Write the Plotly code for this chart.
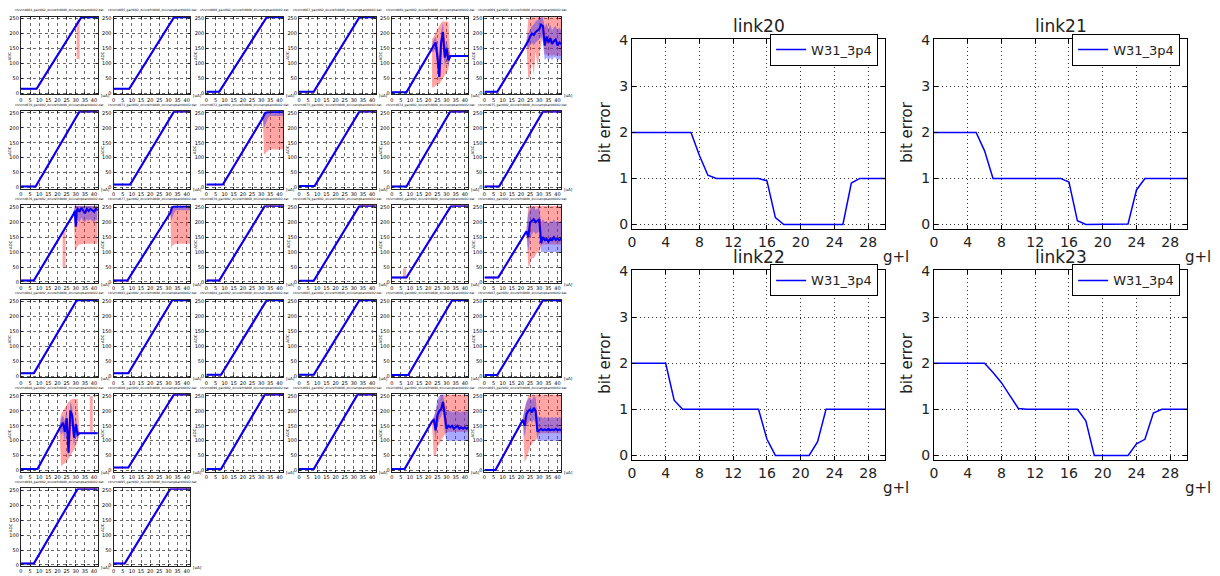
import plotly.graph_objects as go

W, H = 1220, 576

# ================= left: 32 DAC ramp panels (ADC vs uA) =================
panel_channel = [64, 65, 66, 67, 68, 69, 70, 71, 72, 73, 74, 75, 76, 77, 78, 79,
                 80, 81, 82, 83, 84, 85, 86, 87, 88, 89, 90, 91, 92, 93, 94, 95]
ramp_base = [15, 15, 5, 5, 3, 5,
             4, 10, 10, 5, 4, 4,
             5, 5, 5, 4, 15, 15,
             10, 10, 5, 5, 4, 4,
             5, 10, 5, 5, 5, 2,
             5, 5]
ramp_start = [8.5, 8.5, 7, 8, 8, 7,
              8, 9, 9, 8.5, 8, 8,
              7, 7.5, 7, 8, 8, 7.5,
              7, 8, 8, 8, 9, 7,
              9, 8, 8, 8, 7, 6,
              7, 6]
ramp_end = [33, 33, 33, 33, None, None,
            32, 33, None, 33, 32, 32,
            None, None, 32, 33, 32.5, None,
            30.5, 32, 33, 33, 33, 32,
            None, 33, 32, 32, None, None,
            31, 31]
x_ticks_small = [0, 5, 10, 15, 20, 25, 30, 35, 40]
y_ticks_small = [0, 50, 100, 150, 200, 250]

# noisy panels: x, mean, blue band lo/hi, red band lo/hi
n4_x = [22, 23, 24, 25, 26, 27, 28, 29, 30, 31, 32, 42]
n4_mean = [150, 160, 170, 120, 55, 170, 205, 120, 150, 110, 125, 125]
n4_blo = [140, 140, 150, 90, 35, 130, 170, 90, 110, 90, 123, 123]
n4_bhi = [160, 180, 190, 165, 110, 205, 235, 160, 175, 145, 127, 127]
n4_rlo = [20, 20, 25, 30, 30, 40, 50, 60, 70, 80, 125, 125]
n4_rhi = [180, 190, 200, 215, 225, 235, 240, 240, 240, 240, 125, 125]

n5_x = [22, 23, 24, 25, 26, 27, 28, 29, 30, 31, 32, 33, 34, 35, 36, 37, 38, 39, 40, 41, 42]
n5_mean = [155, 165, 175, 190, 200, 195, 205, 210, 215, 230, 225, 160, 190, 170, 185, 165, 175, 180, 160, 170, 165]
n5_blo = [150, 160, 150, 160, 170, 160, 170, 175, 180, 190, 170, 110, 120, 110, 120, 110, 120, 120, 110, 115, 110]
n5_bhi = [160, 175, 200, 215, 225, 230, 240, 245, 250, 255, 255, 220, 235, 215, 230, 210, 220, 225, 210, 220, 210]
n5_rlo = [150, 160, 50, 55, 110, 60, 140, 90, 130, 160, 200, 130, 130, 125, 130, 125, 130, 125, 130, 125, 125]
n5_rhi = [160, 175, 250, 255, 255, 255, 255, 255, 255, 255, 255, 255, 255, 255, 255, 255, 255, 255, 255, 255, 255]

n8_x = [31, 31.5, 32, 33, 34, 35, 36, 38, 40, 42]
n8_mean = [235, 240, 248, 252, 253, 253, 253, 253, 253, 253]
n8_blo = [230, 200, 210, 220, 235, 240, 240, 240, 240, 240]
n8_bhi = [240, 255, 255, 255, 255, 255, 255, 255, 255, 255]
n8_rlo = [230, 110, 115, 120, 125, 128, 128, 128, 128, 128]
n8_rhi = [240, 250, 250, 250, 250, 250, 250, 250, 250, 250]

n12_x = [29, 29.5, 30, 30.5, 31, 32, 33, 34, 35, 36, 37, 38, 39, 40, 41, 42]
n12_mean = [230, 238, 185, 240, 245, 235, 248, 240, 230, 245, 238, 245, 240, 235, 245, 240]
n12_blo = [225, 200, 170, 200, 210, 200, 215, 205, 200, 210, 205, 210, 205, 200, 210, 205]
n12_bhi = [235, 255, 255, 255, 255, 255, 255, 255, 255, 255, 255, 255, 255, 255, 255, 255]
n12_rlo = [225, 110, 105, 110, 120, 125, 125, 128, 128, 128, 128, 128, 128, 128, 128, 128]
n12_rhi = [235, 255, 255, 255, 255, 255, 255, 255, 255, 255, 255, 255, 255, 255, 255, 255]

n13_x = [31, 31.5, 32, 33, 34, 36, 38, 40, 42]
n13_mean = [232, 240, 250, 253, 253, 253, 253, 253, 253]
n13_blo = [228, 205, 215, 230, 240, 240, 240, 240, 240]
n13_bhi = [236, 255, 255, 255, 255, 255, 255, 255, 255]
n13_rlo = [228, 110, 120, 125, 128, 128, 128, 128, 128]
n13_rhi = [236, 250, 250, 250, 250, 250, 250, 250, 250]

n17_x = [23, 24, 25, 26, 27, 28, 29, 30, 31, 32, 33, 34, 35, 36, 37, 38, 39, 40, 41, 42]
n17_mean = [170, 150, 200, 205, 210, 200, 205, 210, 130, 150, 140, 145, 135, 145, 140, 150, 140, 145, 140, 145]
n17_blo = [165, 100, 150, 160, 170, 160, 165, 170, 100, 100, 100, 100, 100, 100, 100, 100, 100, 100, 100, 100]
n17_bhi = [175, 230, 245, 250, 255, 240, 245, 250, 200, 210, 200, 205, 195, 205, 200, 210, 200, 205, 200, 205]
n17_rlo = [165, 50, 60, 80, 80, 90, 100, 100, 120, 125, 125, 125, 125, 125, 125, 125, 125, 125, 125, 125]
n17_rhi = [175, 255, 255, 255, 255, 255, 255, 255, 255, 255, 255, 255, 255, 255, 255, 255, 255, 255, 255, 255]

n24_x = [21, 22, 23, 24, 25, 26, 27, 28, 29, 30, 31, 32, 42]
n24_mean = [140, 150, 160, 130, 175, 60, 200, 185, 110, 155, 120, 125, 125]
n24_blo = [135, 120, 130, 100, 140, 40, 160, 150, 80, 120, 100, 123, 123]
n24_bhi = [145, 175, 185, 165, 210, 100, 230, 215, 140, 180, 140, 127, 127]
n24_rlo = [135, 15, 20, 25, 30, 40, 50, 60, 70, 80, 100, 125, 125]
n24_rhi = [145, 190, 200, 210, 220, 230, 235, 240, 240, 240, 240, 125, 125]

n28_x = [22, 23, 24, 25, 26, 27, 28, 29, 30, 31, 32, 33, 34, 35, 36, 37, 38, 39, 40, 41, 42]
n28_mean = [165, 170, 135, 185, 200, 205, 230, 180, 140, 150, 145, 150, 140, 145, 150, 140, 145, 140, 145, 140, 145]
n28_blo = [160, 160, 100, 150, 170, 180, 200, 130, 100, 100, 100, 100, 100, 100, 100, 100, 100, 100, 100, 100, 100]
n28_bhi = [170, 180, 200, 240, 250, 255, 255, 230, 200, 200, 200, 195, 195, 200, 200, 195, 195, 200, 195, 200, 195]
n28_rlo = [160, 50, 50, 80, 90, 100, 110, 120, 130, 130, 130, 130, 130, 130, 130, 130, 130, 130, 130, 130, 130]
n28_rhi = [170, 175, 200, 220, 240, 250, 255, 255, 255, 255, 255, 255, 255, 255, 255, 255, 255, 255, 255, 255, 255]

n29_x = [21, 22, 23, 24, 25, 26, 27, 28, 29, 30, 31, 32, 33, 34, 35, 36, 37, 38, 39, 40, 41, 42]
n29_mean = [170, 150, 190, 200, 205, 195, 210, 200, 130, 135, 140, 135, 138, 135, 140, 135, 138, 135, 140, 135, 138, 135]
n29_blo = [165, 110, 150, 160, 170, 160, 170, 160, 100, 100, 100, 100, 100, 100, 100, 100, 100, 100, 100, 100, 100, 100]
n29_bhi = [175, 200, 230, 240, 245, 235, 250, 245, 180, 180, 180, 175, 180, 175, 180, 175, 180, 175, 180, 175, 180, 175]
n29_rlo = [165, 30, 40, 60, 80, 90, 100, 100, 110, 125, 125, 125, 125, 125, 125, 125, 125, 125, 125, 125, 125, 125]
n29_rhi = [175, 210, 230, 250, 255, 255, 255, 255, 255, 255, 255, 255, 255, 255, 255, 255, 255, 255, 255, 255, 255, 255]

noisy = {
    4: (n4_x, n4_mean, n4_blo, n4_bhi, n4_rlo, n4_rhi),
    5: (n5_x, n5_mean, n5_blo, n5_bhi, n5_rlo, n5_rhi),
    8: (n8_x, n8_mean, n8_blo, n8_bhi, n8_rlo, n8_rhi),
    12: (n12_x, n12_mean, n12_blo, n12_bhi, n12_rlo, n12_rhi),
    13: (n13_x, n13_mean, n13_blo, n13_bhi, n13_rlo, n13_rhi),
    17: (n17_x, n17_mean, n17_blo, n17_bhi, n17_rlo, n17_rhi),
    24: (n24_x, n24_mean, n24_blo, n24_bhi, n24_rlo, n24_rhi),
    28: (n28_x, n28_mean, n28_blo, n28_bhi, n28_rlo, n28_rhi),
    29: (n29_x, n29_mean, n29_blo, n29_bhi, n29_rlo, n29_rhi),
}
for k, arrs in noisy.items():
    n = len(arrs[0])
    for a in arrs:
        assert len(a) == n, (k, len(a), n)

spike_panel = [0, 12, 16, 24]
spike_x = [31.3, 23.6, 7.0, 38.5]
spike_lo = [115, 50, 15, 130]
spike_hi = [245, 170, 45, 250]

# ================= right: bit error vs g+l =================
gl = [0, 1, 2, 3, 4, 5, 6, 7, 8, 9, 10, 11, 12, 13, 14, 15, 16, 17, 18, 19, 20,
      21, 22, 23, 24, 25, 26, 27, 28, 29, 30]
link_names = ["link20", "link21", "link22", "link23"]
link20 = [2, 2, 2, 2, 2, 2, 2, 2, 1.5, 1.07, 1, 1, 1, 1, 1, 1, 0.95, 0.15,
          0, 0, 0, 0, 0, 0, 0, 0, 0.9, 1, 1, 1, 1]
link21 = [2, 2, 2, 2, 2, 2, 1.6, 1, 1, 1, 1, 1, 1, 1, 1, 1, 0.92, 0.08,
          0, 0, 0, 0, 0, 0.01, 0.75, 1, 1, 1, 1, 1, 1]
link22 = [2, 2, 2, 2, 2, 1.2, 1, 1, 1, 1, 1, 1, 1, 1, 1, 1, 0.35, 0,
          0, 0, 0, 0, 0.3, 1, 1, 1, 1, 1, 1, 1, 1]
link23 = [2, 2, 2, 2, 2, 2, 2, 1.8, 1.58, 1.3, 1.02, 1, 1, 1, 1, 1, 1, 1,
          0.75, 0, 0, 0, 0, 0, 0.25, 0.35, 0.92, 1, 1, 1, 1]
link_values = [link20, link21, link22, link23]
series_name = "W31_3p4"
x_ticks_big = [0, 4, 8, 12, 16, 20, 24, 28]
y_ticks_big = [0, 1, 2, 3, 4]

# ================= build figure =================
FONT = "DejaVu Sans"
RED_BAND = "rgba(255,40,40,0.42)"
BLUE_BAND = "rgba(40,40,255,0.40)"
RED = "#ff2020"
BLUE = "#0000ff"

fig = go.Figure()
layout = {}
annotations = []


def px_x(px):
    return px / W


def px_y(py):
    return 1 - py / H


def axname(k):
    return ("", "") if k == 1 else (str(k), str(k))


# small panel geometry (pixels)
G_LEFT, G_DX, G_W = 17, 93, 77
G_TOP, G_DY, G_H = 10, 96, 79

for i in range(32):
    r, c = divmod(i, 6)
    k = i + 1
    sx, sy = axname(k)
    xref, yref = "x" + sx, "y" + sy
    left = G_LEFT + c * G_DX
    top = G_TOP + r * G_DY
    right, bottom = left + G_W, top + G_H

    base, start = ramp_base[i], ramp_start[i]
    if i in noisy:
        nx, nm, blo, bhi, rlo, rhi = noisy[i]
        lx = [0, start] + list(nx)
        ly = [base, base] + list(nm)
        fig.add_trace(go.Scatter(x=list(nx) + list(nx)[::-1], y=list(rhi) + list(rlo)[::-1],
                                 fill="toself", fillcolor=RED_BAND, line=dict(width=0),
                                 mode="lines", hoverinfo="skip", showlegend=False,
                                 xaxis=xref, yaxis=yref))
        fig.add_trace(go.Scatter(x=list(nx) + list(nx)[::-1], y=list(bhi) + list(blo)[::-1],
                                 fill="toself", fillcolor=BLUE_BAND, line=dict(width=0),
                                 mode="lines", hoverinfo="skip", showlegend=False,
                                 xaxis=xref, yaxis=yref))
    else:
        end = ramp_end[i]
        lx = [0, start, end, 42]
        ly = [base, base, 255, 255]
    for j, p in enumerate(spike_panel):
        if p == i:
            fig.add_trace(go.Scatter(x=[spike_x[j], spike_x[j]], y=[spike_lo[j], spike_hi[j]],
                                     mode="lines", line=dict(color="rgba(255,60,60,0.45)", width=3),
                                     hoverinfo="skip", showlegend=False, xaxis=xref, yaxis=yref))
    fig.add_trace(go.Scatter(x=[v + 0.3 for v in lx], y=ly, mode="lines",
                             line=dict(color=RED, width=1.4), showlegend=False,
                             hoverinfo="skip", xaxis=xref, yaxis=yref))
    fig.add_trace(go.Scatter(x=lx, y=ly, mode="lines", line=dict(color=BLUE, width=2),
                             showlegend=False, hoverinfo="skip", xaxis=xref, yaxis=yref))

    common = dict(showgrid=True, gridcolor="#6a6a6a", griddash="dot", gridwidth=0.6,
                  showline=True, linecolor="#222", linewidth=1.2, mirror="ticks",
                  ticks="inside", ticklen=2, tickcolor="#222", zeroline=False,
                  tickfont=dict(family=FONT, size=5, color="black"), tickangle=0)
    layout["xaxis" + sx] = dict(domain=[px_x(left), px_x(right)], range=[0, 42],
                                tickvals=x_ticks_small, ticktext=[str(v) for v in x_ticks_small],
                                anchor=yref, **common)
    layout["yaxis" + sy] = dict(domain=[px_y(bottom), px_y(top)], range=[-4, 256],
                                tickvals=y_ticks_small, ticktext=[str(v) for v in y_ticks_small],
                                anchor=xref, **common)
    annotations.append(dict(x=px_x((left + right) / 2), y=px_y(top - 2.5), xref="paper", yref="paper",
                            text=f"ch/vrnd{panel_channel[i]:03d}_gain002_dcivrefn0800_dcivrampbank0402.dat",
                            showarrow=False, xanchor="center", yanchor="bottom",
                            font=dict(family=FONT, size=3, color="black")))
    annotations.append(dict(x=px_x(right + 1), y=px_y(bottom + 1), xref="paper", yref="paper",
                            text="[uA]", showarrow=False, xanchor="left", yanchor="middle",
                            font=dict(family=FONT, size=4, color="black")))
    annotations.append(dict(x=px_x(left - 11), y=px_y((top + bottom) / 2), xref="paper", yref="paper",
                            text="ADC", showarrow=False, textangle=-90,
                            xanchor="center", yanchor="middle",
                            font=dict(family=FONT, size=4, color="black")))

# big panels geometry (pixels)
big_boxes = [(630, 884, 33, 226), (933, 1187, 33, 226),
             (630, 884, 268, 461), (933, 1187, 268, 461)]
legend_keys = ["legend", "legend2", "legend3", "legend4"]

for j in range(4):
    k = 33 + j
    sx, sy = axname(k)
    xref, yref = "x" + sx, "y" + sy
    left, right, top, bottom = big_boxes[j]
    fig.add_trace(go.Scatter(x=gl, y=link_values[j], mode="lines", name=series_name,
                             line=dict(color=BLUE, width=1.5), legend=legend_keys[j],
                             xaxis=xref, yaxis=yref))
    common = dict(showgrid=True, gridcolor="#333", griddash="1px,3px", gridwidth=1,
                  showline=True, linecolor="black", linewidth=1, mirror="ticks",
                  ticks="inside", ticklen=4, tickcolor="black", zeroline=False,
                  tickfont=dict(family=FONT, size=14, color="#222"), tickangle=0)
    layout["xaxis" + sx] = dict(domain=[px_x(left), px_x(right)], range=[0, 30],
                                tickvals=x_ticks_big, ticktext=[str(v) for v in x_ticks_big],
                                anchor=yref, **common)
    layout["yaxis" + sy] = dict(domain=[px_y(bottom), px_y(top)], range=[-0.1, 4.02],
                                tickvals=y_ticks_big, ticktext=[str(v) for v in y_ticks_big],
                                anchor=xref, **common)
    layout[legend_keys[j]] = dict(x=px_x(right - 7), y=px_y(top - 6), xanchor="right", yanchor="top",
                                  xref="paper", yref="paper",
                                  bgcolor="white", bordercolor="black", borderwidth=1,
                                  font=dict(family=FONT, size=13, color="#222"),
                                  itemwidth=30, tracegroupgap=0)
    annotations.append(dict(x=px_x((left + right) / 2), y=px_y(top - 14), xref="paper", yref="paper",
                            text=link_names[j], showarrow=False, xanchor="center", yanchor="middle",
                            font=dict(family=FONT, size=17, color="#222")))
    annotations.append(dict(x=px_x(right + 11), y=px_y(bottom + 28), xref="paper", yref="paper",
                            text="g+l", showarrow=False, xanchor="center", yanchor="middle",
                            font=dict(family=FONT, size=15, color="#222")))
    annotations.append(dict(x=px_x(left - 27), y=px_y(top + 95), xref="paper", yref="paper",
                            text="bit error", showarrow=False, textangle=-90,
                            xanchor="center", yanchor="middle",
                            font=dict(family=FONT, size=15, color="#222")))

layout["annotations"] = annotations
fig.update_layout(width=W, height=H, margin=dict(l=0, r=0, t=0, b=0),
                  paper_bgcolor="white", plot_bgcolor="white", **layout)

fig.write_html("out.html")
